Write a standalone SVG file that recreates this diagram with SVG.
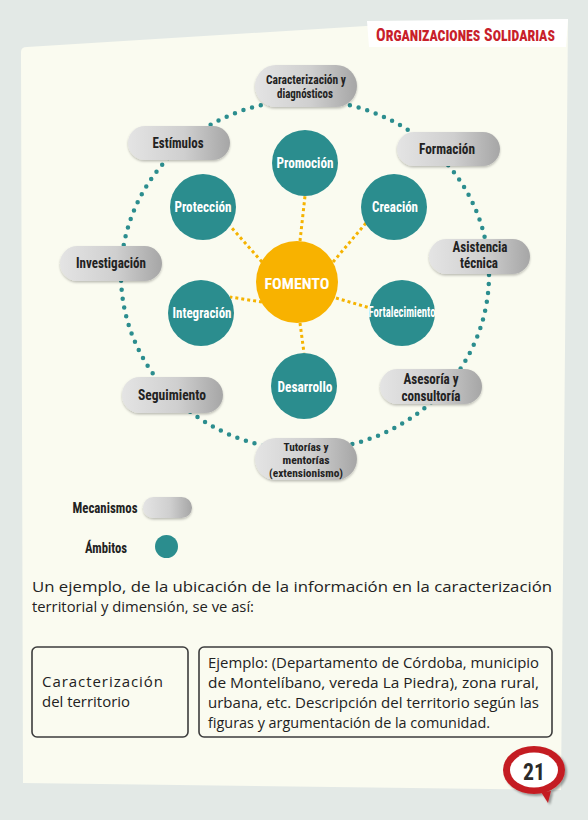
<svg xmlns="http://www.w3.org/2000/svg" width="588" height="820" viewBox="0 0 588 820">
<defs>
<linearGradient id="pillg" x1="0" y1="0" x2="1" y2="0">
<stop offset="0" stop-color="#e4e4e4"/>
<stop offset="0.55" stop-color="#cfcfcf"/>
<stop offset="1" stop-color="#a6a6a6"/>
</linearGradient>
<filter id="sh" x="-20%" y="-20%" width="140%" height="160%">
<feDropShadow dx="0" dy="1.5" stdDeviation="1" flood-color="#000" flood-opacity="0.25"/>
</filter>
<filter id="bsh" x="-30%" y="-30%" width="160%" height="160%">
<feDropShadow dx="2" dy="2" stdDeviation="1" flood-color="#000" flood-opacity="0.35"/>
</filter>
</defs>
<style>
.pill{fill:url(#pillg);filter:url(#sh);}
.pl{font-family:"Liberation Sans Narrow","Roboto Condensed","DejaVu Sans Condensed",Roboto,sans-serif;font-weight:bold;font-size:14px;fill:#222;text-anchor:middle;}
.pls{font-size:12px;}
.plt{font-size:11px;}
.amb{fill:#2b8d8e;}
.al{font-family:"Liberation Sans Narrow","Roboto Condensed","DejaVu Sans Condensed",Roboto,sans-serif;font-weight:bold;font-size:14.5px;fill:#fff;text-anchor:middle;}
.spoke{stroke:#f5b301;stroke-width:3;stroke-dasharray:3 3;fill:none;}
.ring{fill:none;stroke:#2b8d8e;stroke-width:4.5;stroke-linecap:round;stroke-dasharray:0 9;}
.body{font-family:"Open Sans","Noto Sans",sans-serif;font-size:15px;fill:#222;}
.box{fill:none;stroke:#3c3c3c;stroke-width:1.6;}
</style>
<rect x="0" y="0" width="588" height="820" fill="#e3e9e6"/>
<path d="M21,52 Q21,47 27,47 L366,26 L568,19 L561,790 L23,783 Z" fill="#fafbf0"/>
<g id="banner">
<polygon points="367,21 568,19 566,47 369,47" fill="#ffffff"/>
<text x="376" y="41" font-family="Liberation Sans Narrow,Roboto Condensed,Roboto,sans-serif" font-weight="bold" fill="#c8202a" font-size="19" font-variant="small-caps" textLength="179" lengthAdjust="spacingAndGlyphs">Organizaciones Solidarias</text>
</g>
<g id="connectors">
<ellipse class="ring" cx="305" cy="275" rx="184" ry="175"/>
<line class="spoke" x1="300" y1="241" x2="305" y2="196"/>
<line class="spoke" x1="333" y1="262" x2="366" y2="223"/>
<line class="spoke" x1="262" y1="262" x2="230" y2="226"/>
<line class="spoke" x1="262" y1="302" x2="230" y2="297"/>
<line class="spoke" x1="336" y1="298" x2="370" y2="308"/>
<line class="spoke" x1="300" y1="323" x2="304" y2="353"/>
</g>
<g id="fomento">
<circle cx="297" cy="282" r="41" fill="#f8b200"/>
<text x="297" y="289" class="al" font-size="19" textLength="65" lengthAdjust="spacingAndGlyphs">FOMENTO</text>
</g>
<g id="promocion"><circle class="amb" cx="305" cy="163" r="33"/><text class="al" x="305" y="168" textLength="57" lengthAdjust="spacingAndGlyphs">Promoción</text></g>
<g id="creacion"><circle class="amb" cx="394" cy="207" r="33"/><text class="al" x="395" y="212" textLength="46" lengthAdjust="spacingAndGlyphs">Creación</text></g>
<g id="proteccion"><circle class="amb" cx="203" cy="207" r="33"/><text class="al" x="203" y="212" textLength="57" lengthAdjust="spacingAndGlyphs">Protección</text></g>
<g id="integracion"><circle class="amb" cx="201" cy="313" r="33"/><text class="al" x="202" y="318" textLength="59" lengthAdjust="spacingAndGlyphs">Integración</text></g>
<g id="fortalecimiento"><circle class="amb" cx="402" cy="313" r="33"/><text class="al" x="402" y="317" font-size="11.5" textLength="67" lengthAdjust="spacingAndGlyphs">Fortalecimiento</text></g>
<g id="desarrollo"><circle class="amb" cx="304" cy="386" r="33"/><text class="al" x="305" y="392" textLength="55" lengthAdjust="spacingAndGlyphs">Desarrollo</text></g>

<g id="caracterizacion"><rect class="pill" x="255" y="65" width="102" height="42" rx="21"/>
<text class="pl pls" x="306" y="84" textLength="80" lengthAdjust="spacingAndGlyphs">Caracterización y</text>
<text class="pl pls" x="305" y="98" textLength="56" lengthAdjust="spacingAndGlyphs">diagnósticos</text></g>
<g id="estimulos"><rect class="pill" x="128" y="126" width="102" height="34" rx="17"/>
<text class="pl" x="178" y="148" textLength="51" lengthAdjust="spacingAndGlyphs">Estímulos</text></g>
<g id="formacion"><rect class="pill" x="397" y="132" width="103" height="34" rx="17"/>
<text class="pl" x="447" y="154" textLength="56" lengthAdjust="spacingAndGlyphs">Formación</text></g>
<g id="investigacion"><rect class="pill" x="60" y="246" width="102" height="35" rx="17.5"/>
<text class="pl" x="111" y="268" textLength="70" lengthAdjust="spacingAndGlyphs">Investigación</text></g>
<g id="asistencia"><rect class="pill" x="429" y="239" width="101" height="35" rx="17.5"/>
<text class="pl" x="480" y="252" textLength="55" lengthAdjust="spacingAndGlyphs">Asistencia</text>
<text class="pl" x="479" y="268" textLength="38" lengthAdjust="spacingAndGlyphs">técnica</text></g>
<g id="seguimiento"><rect class="pill" x="122" y="377" width="101" height="36" rx="18"/>
<text class="pl" x="172" y="400" textLength="68" lengthAdjust="spacingAndGlyphs">Seguimiento</text></g>
<g id="asesoria"><rect class="pill" x="380" y="369" width="102" height="35" rx="17.5"/>
<text class="pl" x="431" y="384" textLength="55" lengthAdjust="spacingAndGlyphs">Asesoría y</text>
<text class="pl" x="431" y="401" textLength="59" lengthAdjust="spacingAndGlyphs">consultoría</text></g>
<g id="tutorias"><rect class="pill" x="255" y="438" width="102" height="42" rx="21"/>
<text class="pl plt" x="306" y="451" textLength="45" lengthAdjust="spacingAndGlyphs">Tutorías y</text>
<text class="pl plt" x="306" y="464" textLength="47" lengthAdjust="spacingAndGlyphs">mentorías</text>
<text class="pl plt" x="306" y="477" textLength="74" lengthAdjust="spacingAndGlyphs">(extensionismo)</text></g>

<g id="legend">
<text class="pl" x="105" y="513" textLength="65" lengthAdjust="spacingAndGlyphs">Mecanismos</text>
<rect class="pill" x="143" y="497" width="49" height="21" rx="10.5"/>
<text class="pl" x="106" y="553" textLength="42" lengthAdjust="spacingAndGlyphs">Ámbitos</text>
<circle class="amb" cx="166.5" cy="546.5" r="11.5"/>
</g>

<g id="paragraph">
<text class="body" x="32" y="592" textLength="520" lengthAdjust="spacingAndGlyphs">Un ejemplo, de la ubicación de la información en la caracterización</text>
<text class="body" x="32" y="612" textLength="222" lengthAdjust="spacingAndGlyphs">territorial y dimensión, se ve así:</text>
</g>
<g id="box1">
<rect class="box" x="32" y="647" width="156" height="90" rx="5"/>
<text class="body" x="42" y="687" letter-spacing="1" textLength="122" lengthAdjust="spacing">Caracterización</text>
<text class="body" x="42" y="707" textLength="88" lengthAdjust="spacingAndGlyphs">del territorio</text>
</g>
<g id="box2">
<rect class="box" x="199" y="647" width="353" height="90" rx="5"/>
<text class="body" x="208" y="668" textLength="331" lengthAdjust="spacingAndGlyphs">Ejemplo: (Departamento de Córdoba, municipio</text>
<text class="body" x="208" y="688" textLength="331" lengthAdjust="spacingAndGlyphs">de Montelíbano, vereda La Piedra), zona rural,</text>
<text class="body" x="208" y="708" textLength="331" lengthAdjust="spacingAndGlyphs">urbana, etc. Descripción del territorio según las</text>
<text class="body" x="208" y="728" textLength="282" lengthAdjust="spacingAndGlyphs">figuras y argumentación de la comunidad.</text>
</g>
<g id="pagenum">
<g filter="url(#bsh)">
<path d="M541,792 L548,803 L551,791 Z" fill="#c41e24"/>
<ellipse cx="534" cy="770" rx="31" ry="24" fill="#c41e24"/>
</g>
<ellipse cx="534" cy="770" rx="24" ry="17.5" fill="#ffffff"/>
<text x="534" y="780" text-anchor="middle" font-family="Liberation Sans Narrow,Roboto Condensed,Roboto,sans-serif" font-weight="bold" font-size="24" fill="#2a2a2a" textLength="22" lengthAdjust="spacingAndGlyphs">21</text>
</g>
</svg>
